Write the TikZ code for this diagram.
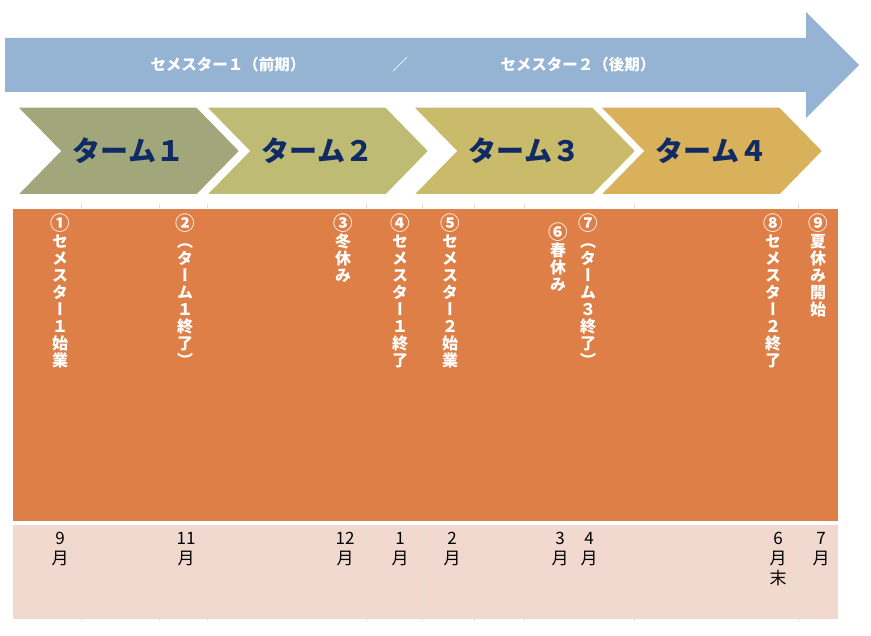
\documentclass[tikz,border=0pt]{standalone}
\usepackage{fontspec}
\newfontfamily\jp{Noto Sans CJK JP}
\newfontfamily\jpv[RawFeature=+vert]{Noto Sans CJK JP}
\usetikzlibrary{positioning}

\definecolor{semblue}{RGB}{149,179,210}
\definecolor{chevA}{RGB}{161,167,123}
\definecolor{chevB}{RGB}{190,187,116}
\definecolor{chevC}{RGB}{201,187,106}
\definecolor{chevD}{RGB}{216,177,90}
\definecolor{eventorange}{RGB}{221,127,71}
\definecolor{monthpink}{RGB}{242,217,207}
\definecolor{termnavy}{RGB}{16,42,100}
\definecolor{gridbeige}{RGB}{236,222,206}

% circled event number, a little larger than the text
\newcommand{\evnum}[1]{{\fontsize{19.5}{17}\selectfont #1}}

\begin{document}
\begin{tikzpicture}[x=1pt, y=-1pt,
        chevron/.style={draw=white, line width=1.5pt},
        term/.style={font=\jp\bfseries\fontsize{28}{30}\selectfont, text=termnavy, inner sep=0pt},
        sem/.style={font=\jp\bfseries\fontsize{15.5}{17}\selectfont, text=white, inner sep=0pt},
        event/.style={font=\jpv\bfseries\fontsize{16}{17}\selectfont, text=white, align=center, anchor=north, inner sep=0pt},
        month/.style={font=\jp\fontsize{17}{20}\selectfont, align=center, anchor=north, inner sep=0pt},
        colline/.style={draw=gridbeige, line width=0.6pt}
    ]
        \useasboundingbox (0,0) rectangle (871,636);

        % Semester arrow
        \fill[semblue] (5,38) -- (806,38) -- (806,12) -- (859,65) -- (806,118) -- (806,92) -- (5,92) -- cycle;
        \node[sem] (s1) at (228,65) {セメスター１（前期）};
        \node[sem] (slash) at (400,65) {／};
        \node[sem] (s2) at (578,65) {セメスター２（後期）};

        % Terms
        \foreach \x/\c/\n [count=\i] in {17/chevA/１, 206/chevB/２, 413/chevC/３, 600/chevD/４} {
            \filldraw[chevron, fill=\c] (\x,107) -- ++(180,0) -- ++(43,44) -- ++(-43,44) -- ++(-180,0) -- ++(43,-44) -- cycle;
            \node[term] (t\i) at (\x+111.5,151) {ターム\n};
        }

        % Events
        \fill[eventorange] (13,209) rectangle (838,521);
        \node[event] (e1) at (60,214) {\evnum{①}\\セ\\メ\\ス\\タ\\ー\\１\\始\\業};
        \node[event] (e2) at (185,214) {\evnum{②}\\（\\タ\\ー\\ム\\１\\終\\了\\）};
        \node[event] (e3) at (343,214) {\evnum{③}\\冬\\休\\み};
        \node[event] (e4) at (400,214) {\evnum{④}\\セ\\メ\\ス\\タ\\ー\\１\\終\\了};
        \node[event] (e5) at (450,214) {\evnum{⑤}\\セ\\メ\\ス\\タ\\ー\\２\\始\\業};
        \node[event] (e6) at (558,223) {\evnum{⑥}\\春\\休\\み};
        \node[event] (e7) at (588,214) {\evnum{⑦}\\（\\タ\\ー\\ム\\３\\終\\了\\）};
        \node[event] (e8) at (773,214) {\evnum{⑧}\\セ\\メ\\ス\\タ\\ー\\２\\終\\了};
        \node[event] (e9) at (818,214) {\evnum{⑨}\\夏\\休\\み\\開\\始};

        % Months
        \fill[monthpink] (13,525) rectangle (838,619);
        \foreach \x in {81,159,207,366,422,474,524,634,798} {
            \draw[colline] (\x,204) -- (\x,208);
            \draw[colline] (\x,525) -- (\x,621);
        }
        \node[month] (m9) at (60,532) {9\\月};
        \node[month] (m11) at (186,532) {11\\月};
        \node[month] (m12) at (345,532) {12\\月};
        \node[month] (m1) at (400,532) {1\\月};
        \node[month] (m2) at (452,532) {2\\月};
        \node[month] (m3) at (560,532) {3\\月};
        \node[month] (m4) at (589,532) {4\\月};
        \node[month] (m6) at (778,532) {6\\月\\末};
        \node[month] (m7) at (821,532) {7\\月};
    \end{tikzpicture}
\end{document}
